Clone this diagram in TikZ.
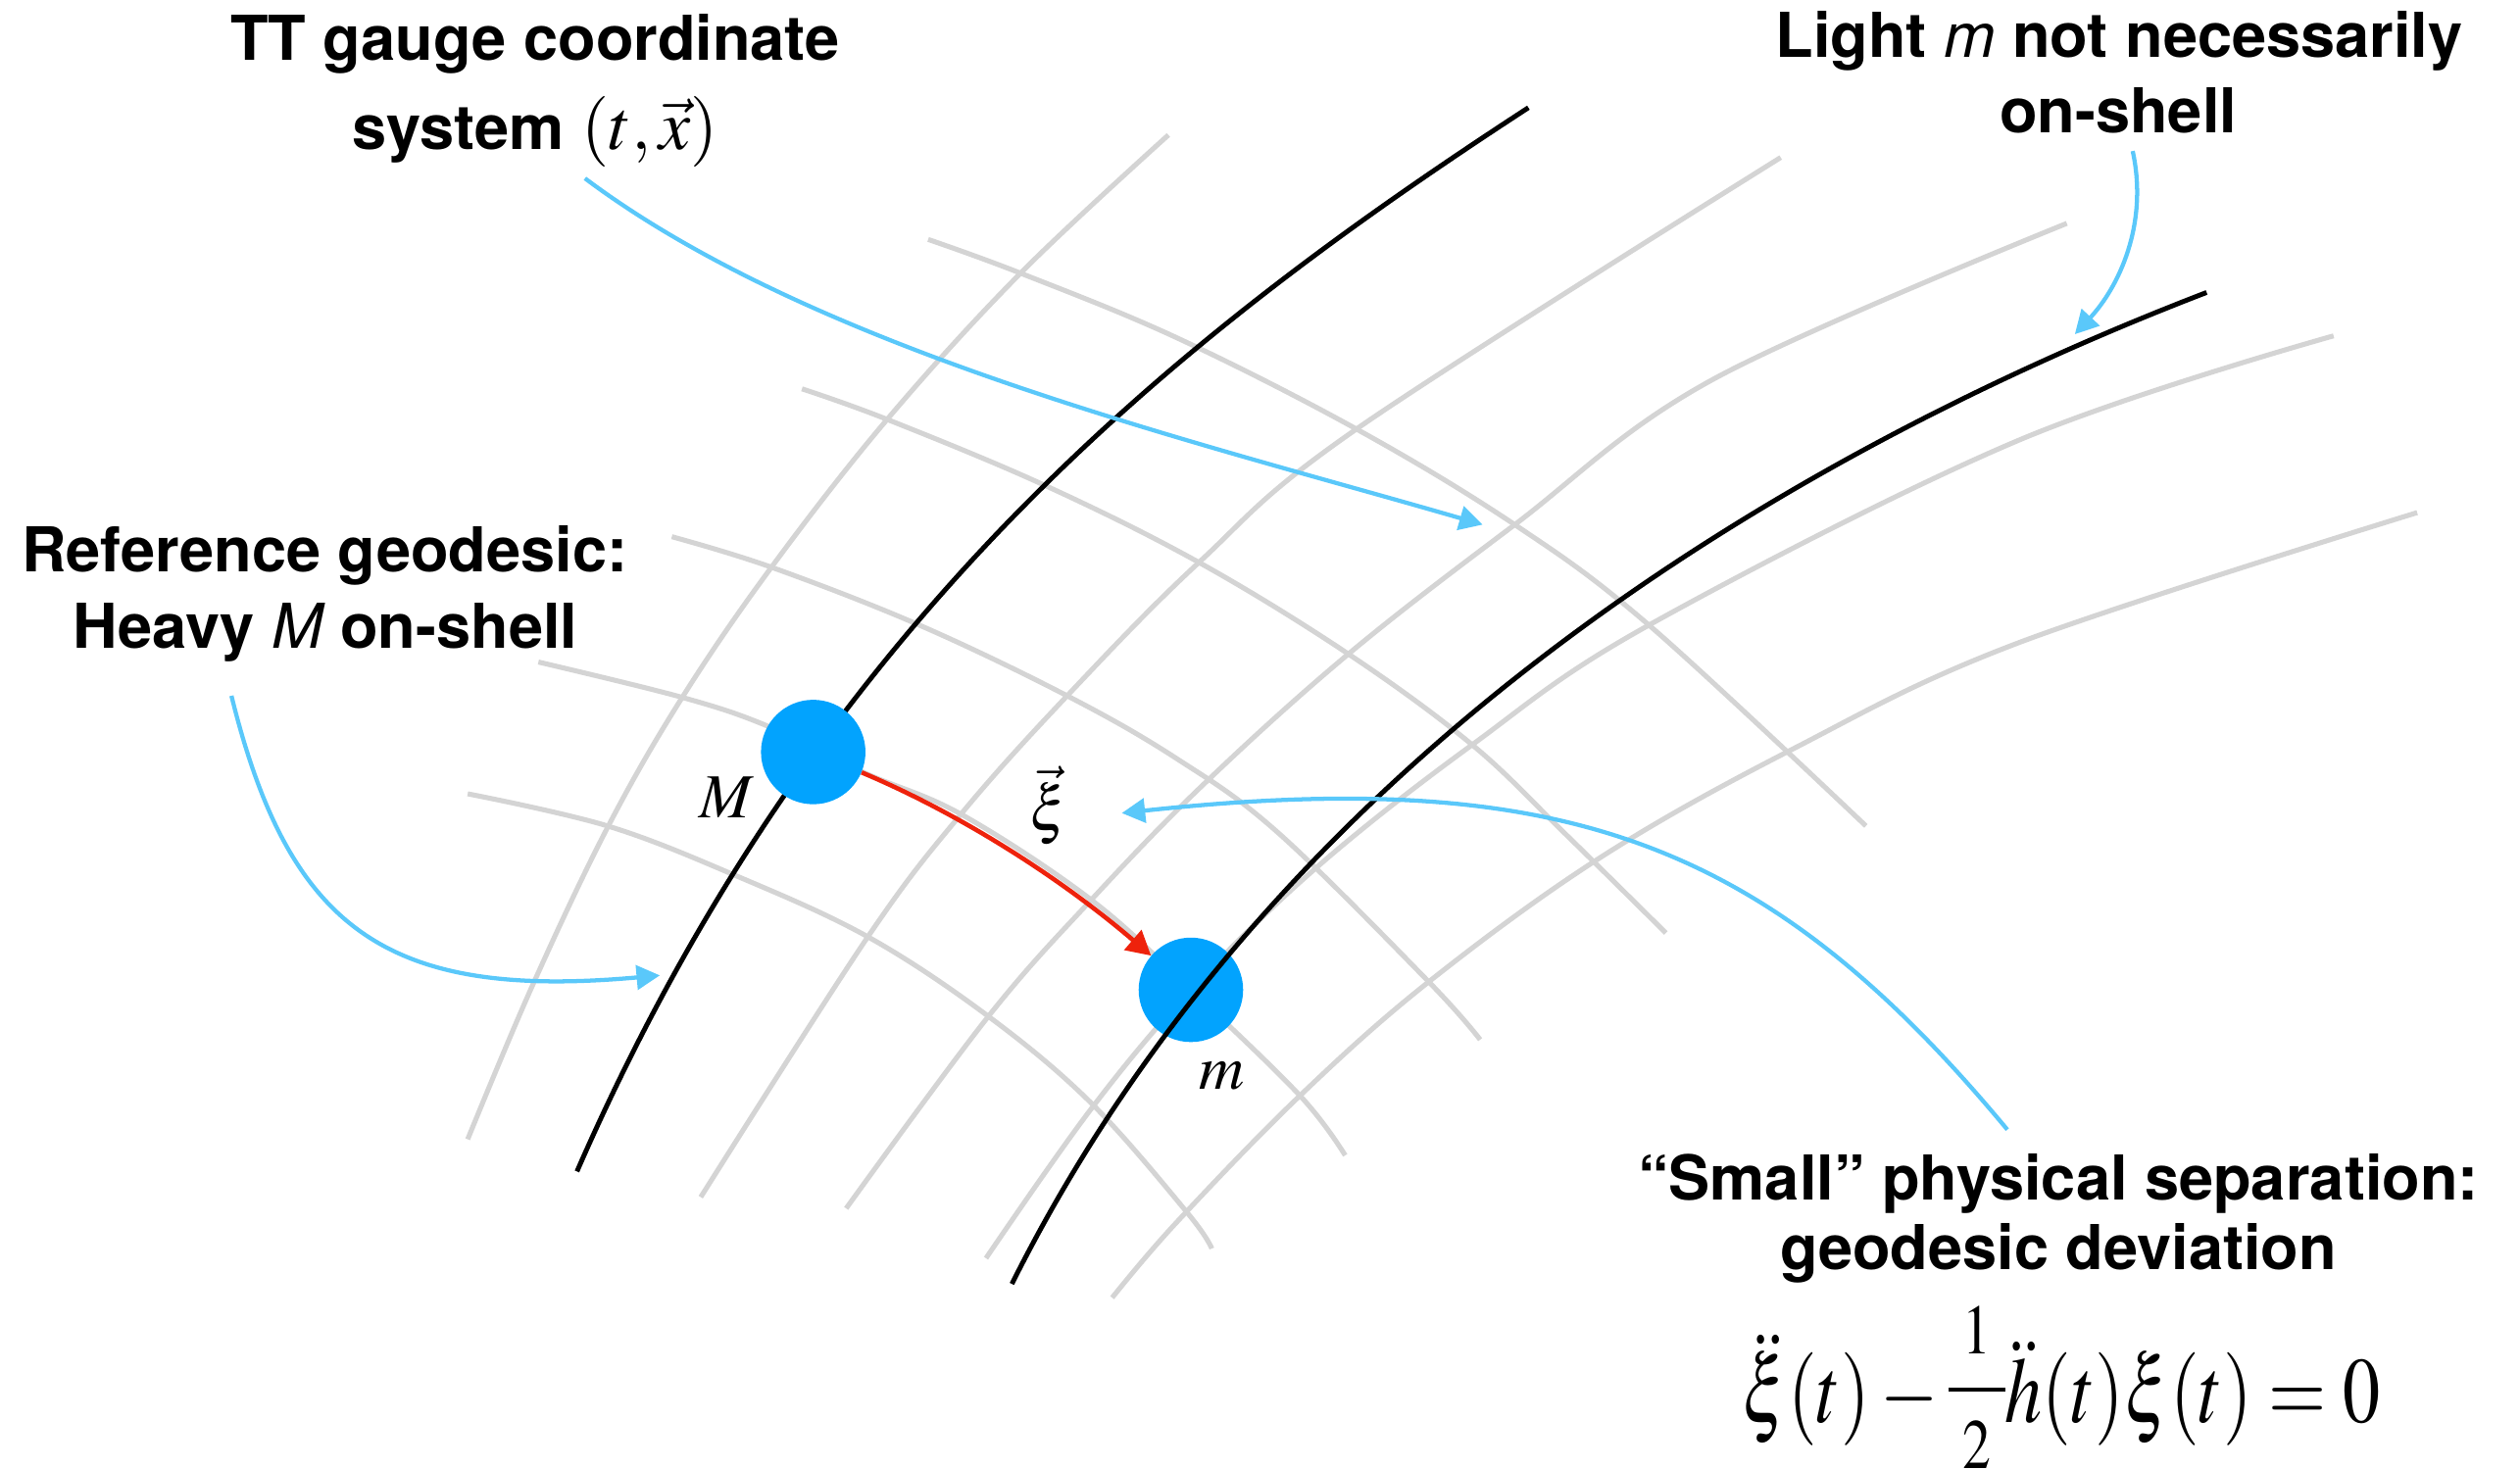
\documentclass[tikz,border=0pt]{standalone}
\usepackage{mathptmx}
\usepackage{graphicx}
\usepackage[no-math]{fontspec}
\newfontfamily\hel{TeX Gyre Heros}
\usetikzlibrary{arrows.meta}
\definecolor{gridgray}{RGB}{212,212,212}
\definecolor{ballblue}{RGB}{2,163,254}
\definecolor{callblue}{RGB}{90,200,250}
\definecolor{sepred}{RGB}{238,34,12}
\newcommand{\halffrac}{\mbox{\fontsize{44}{44}\selectfont
  \makebox[44pt]{\raisebox{42.4pt}{$1$}}\hspace{-44pt}%
  \makebox[44pt]{\raisebox{18.9pt}{\rule{44pt}{2.3pt}}}\hspace{-44pt}%
  \makebox[44pt]{\raisebox{-28.6pt}{$2$}}}}
\begin{document}
\begin{tikzpicture}[x=1pt,y=-1pt,
  gridline/.style={draw=gridgray, line width=3.1pt},
  geoline/.style={draw=black, line width=3.0pt},
  callout/.style={draw=callblue, line width=2.6pt, -{Triangle[length=14.5pt,width=15pt]}},
  sepvec/.style={draw=sepred, line width=2.8pt, -{Triangle[length=15pt,width=16pt]}},
  ball/.style={circle, fill=ballblue, minimum size=65pt, inner sep=0pt},
  lbl/.style={anchor=base, inner sep=0pt, font=\hel\bfseries\fontsize{38.5}{46}\selectfont},
  mlbl/.style={anchor=base, inner sep=0pt, font=\fontsize{39}{46}\selectfont},
  eqlbl/.style={anchor=base, inner sep=0pt, font=\fontsize{58}{64}\selectfont}]
\useasboundingbox (0,0) rectangle (1568,914);
% grid lines (one family)
\draw[gridline] plot[smooth, tension=0.6] coordinates {(291,709) (331,614) (378,515) (424.5,434) (480,353) (552,261) (635,170) (727,84)};
\draw[gridline] plot[smooth, tension=0.6] coordinates {(436,745) (540,583) (598.5,506) (664,433) (746,350) (844,267) (1108,98)};
\draw[gridline] plot[smooth, tension=0.6] coordinates {(526.5,752) (615,632.5) (679,560) (749,488) (839,407) (942.5,326.5) (1066,236) (1286,139)};
\draw[gridline] plot[smooth, tension=0.6] coordinates {(613.5,783) (679,690) (741,616) (819,540) (916,463.5) (1026,389) (1256,274) (1452,209)};
\draw[gridline] plot[smooth, tension=0.6] coordinates {(692,807.6) (731.8,761) (808.7,682) (889,611) (996,533.5) (1115,466.4) (1256,400) (1504,319)};
% grid lines (other family)
\draw[gridline] plot[smooth, tension=0.6] coordinates {(577.5,149) (635,170) (731.8,210) (844,267) (942.5,326.5) (1026,389) (1161,514)};
\draw[gridline] plot[smooth, tension=0.6] coordinates {(499,242) (552,261) (650,302) (746,350) (839,407) (916,463.5) (973,518) (1036.5,580.6)};
\draw[gridline] plot[smooth, tension=0.6] coordinates {(418,334) (480,353) (572,389) (664,433) (732,472) (795,518) (889,611) (921,647)};
\draw[gridline] plot[smooth, tension=0.6] coordinates {(335,412) (424.5,434) (478,452) (538,481) (598.5,507) (679,560) (741,616) (809,682) (837,719)};
\draw[gridline] plot[smooth, tension=0.6] coordinates {(291,494) (378,514) (458,545) (540,583) (615,632.5) (679,686.5) (739,755) (754,777)};
% reference geodesic
\draw[geoline] (359,729) .. controls (511,380.5) and (741.5,203.5) .. (951,67);
% masses
\node[ball] (ballM) at (506,468) {};
\node[ball] (ballm) at (741,616) {};
% second geodesic
\draw[geoline] (629.6,799) .. controls (799.5,459.3) and (1130.4,275.3) .. (1373,182);
% separation vector
\draw[sepvec] (ballM) .. controls (601,508) and (663,549) .. (ballm);
% labels
\node[mlbl] (labM) at (452,509) {$M$};
\node[mlbl] (labm) at (760,678) {$m$};
\node[mlbl] (labxi) at (653,517) {$\vec{\xi}$};
\node[lbl] (tt1) at (333,37.4) {TT gauge coordinate};
\node[lbl] (tt2) at (333,93) {system {\fontsize{44}{44}\selectfont$(t,\vec{x})$}};
\node[lbl] (lt1) at (1318.5,35.6) {Light {\mdseries\itshape m} not necessarily};
\node[lbl] (lt2) at (1318,82.6) {on-shell};
\node[lbl] (rf1) at (202,356) {Reference geodesic:};
\node[lbl] (rf2) at (202.5,403.6) {Heavy {\mdseries\itshape M} on-shell};
\node[lbl] (sm1) at (1280.7,746.7) {“Small” physical separation:};
\node[lbl] (sm2) at (1280.7,790) {geodesic deviation};
\node[eqlbl] (eq) at (1282.5,885) {\scalebox{0.8}[1]{$\ddot{\xi}(t)-\mathord{\halffrac}\ddot{h}(t)\xi(t)=0$}};
% callout arrows
\coordinate (a1s) at (364,111);
\coordinate (a1e) at (922.5,326.5);
\draw[callout] (a1s) .. controls (508,219) and (749,276) .. (a1e);
\coordinate (a2s) at (144,433);
\coordinate (a2e) at (410.6,607);
\draw[callout] (a2s) .. controls (180,578.5) and (240.7,622.3) .. (a2e);
\coordinate (a3s) at (1327,94);
\coordinate (a3e) at (1291,208);
\draw[callout] (a3s) .. controls (1337,140) and (1318,179) .. (a3e);
\coordinate (a4s) at (1249,703);
\coordinate (a4e) at (698,506);
\draw[callout] (a4s) .. controls (1101.8,525.9) and (976.3,476) .. (a4e);
\end{tikzpicture}
\end{document}
